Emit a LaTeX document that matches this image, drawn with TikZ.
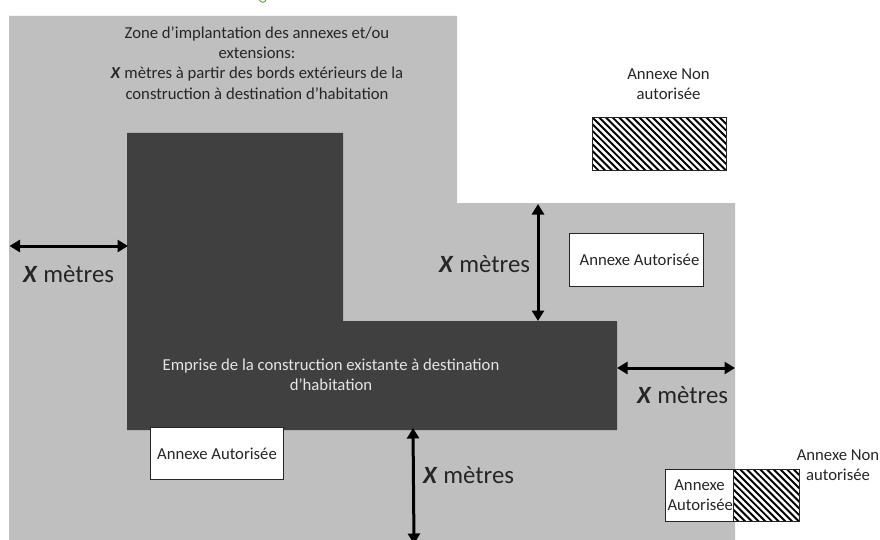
\documentclass[tikz,border=0pt]{standalone}
\usepackage{fontspec}
\setmainfont{Carlito}
\usetikzlibrary{arrows.meta,calc}
\definecolor{zonegray}{RGB}{191,191,191}
\definecolor{housedark}{RGB}{64,64,64}
\definecolor{txt}{RGB}{38,38,38}
\definecolor{leaf}{RGB}{90,150,70}
\tikzset{
  lbl/.style={font=\fontsize{16.7}{20.3}\selectfont,text=txt,align=center,inner sep=0pt},
  mes/.style={font=\fontsize{24.8}{28}\selectfont,text=txt,inner sep=0pt,anchor=west},
  okbox/.style={draw=black!85,line width=1pt,fill=white,inner sep=0pt,anchor=north west,align=center,text=txt,font=\fontsize{16.7}{20.3}\selectfont},
  hatchbox/.style={draw=black!85,line width=1pt,fill=white,inner sep=0pt,anchor=north west,
    path picture={
      \foreach \k in {-30,...,60}{
        \draw[black,line width=1.9pt] ($(path picture bounding box.north west)+(\k*6.7pt,0pt)$) -- ++(90pt,-90pt);
      }
    }},
  dim/.style={{Triangle[width=12pt,length=10.5pt]}-{Triangle[width=12pt,length=10.5pt]},line width=3pt,black},
}
\begin{document}
\begin{tikzpicture}[x=1pt,y=-1pt]
\useasboundingbox (0,0) rectangle (880,540);
\fill[white] (0,0) rectangle (880,540);
\draw[leaf,line width=0.9pt] (259.5,0) .. controls (260.5,3) and (265,3) .. (266,0);
\fill[zonegray] (9,16) -- (457,16) -- (457,203) -- (735,203) -- (735,540) -- (9,540) -- cycle;
\fill[housedark] (127,133) -- (343,133) -- (343,321) -- (617,321) -- (617,430) -- (127,430) -- cycle;

\node[lbl] (zone) at (257,63) {Zone d’implantation des annexes et/ou\\extensions:\\\textbf{\textit{X}} mètres à partir des bords extérieurs de la\\construction à destination d’habitation};
\node[lbl,text=white!90!black] (empr) at (331,375) {Emprise de la construction existante à destination\\d’habitation};

\node[lbl] (nonA) at (668.5,84) {Annexe Non\\autorisée};
\node[hatchbox,minimum width=134pt,minimum height=53pt] (hatchA) at (592,117) {};
\node[okbox,minimum width=134pt,minimum height=53pt] (okA) at (569,233) {\hspace{6pt}Annexe Autorisée};
\node[okbox,minimum width=133pt,minimum height=52pt] (okB) at (150,427) {\raisebox{-2pt}{Annexe Autorisée}};
\node[hatchbox,minimum width=66pt,minimum height=52pt] (hatchC) at (733,469) {};
\node[okbox,minimum width=68pt,minimum height=52pt] (okC) at (665,469) {Annexe\\\hspace{1.5pt}Autorisée};
\node[lbl] (nonC) at (838,465) {Annexe Non\\autorisée};

\coordinate (a1) at (9.5,246);   \coordinate (a2) at (128,246);
\coordinate (b1) at (538,204); \coordinate (b2) at (538,321);
\coordinate (c1) at (617,368); \coordinate (c2) at (735,368);
\coordinate (d1) at (413,428); \coordinate (d2) at (414,544);
\draw[dim] (a1) -- (a2);
\draw[dim] (b1) -- (b2);
\draw[dim] (c1) -- (c2);
\draw[dim] (d1) -- (d2);

\node[mes] (m1) at (23,274) {\textbf{\textit{X}} mètres};
\node[mes] (m2) at (439,264) {\textbf{\textit{X}} mètres};
\node[mes] (m3) at (637,395) {\textbf{\textit{X}} mètres};
\node[mes] (m4) at (423,475) {\textbf{\textit{X}} mètres};
\end{tikzpicture}
\end{document}
